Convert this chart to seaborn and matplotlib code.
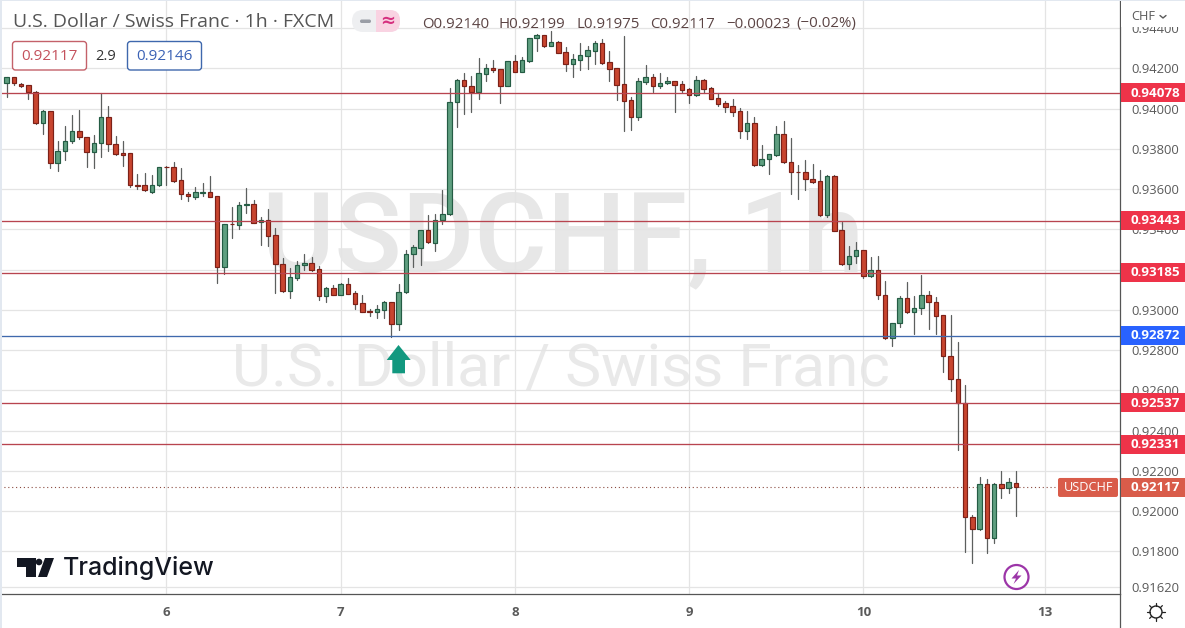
import numpy as np
import pandas as pd
import seaborn as sns
import matplotlib
matplotlib.use("Agg")
import matplotlib.pyplot as plt
from matplotlib.patches import Circle, FancyBboxPatch, Polygon, Rectangle

# 1. DATA (hourly candles, prices in 1e-5 CHF)
open_px = [94125, 94155, 94123, 94115, 94082, 93927, 93986, 93728, 93787, 93837,
           93887, 93857, 93782, 93827, 93956, 93822, 93777, 93777, 93620, 93618,
           93584, 93618, 93712, 93708, 93643, 93575, 93562, 93580, 93584, 93564,
           93214, 93428, 93423, 93519, 93524, 93434, 93446, 93370, 93229, 93095,
           93159, 93224, 93231, 93201, 93070, 93107, 93075, 93126, 93082, 93032,
           92992, 92990, 93000, 93037, 92931, 93087, 93275, 93309, 93395, 93333,
           93446, 93474, 94031, 94140, 94113, 94081, 94173, 94200, 94195, 94113,
           94235, 94183, 94236, 94349, 94364, 94312, 94329, 94279, 94220, 94243,
           94263, 94287, 94324, 94230, 94200, 94120, 94041, 93959, 94133, 94155,
           94113, 94125, 94135, 94120, 94095, 94069, 94140, 94100, 94051, 94027,
           94011, 93986, 93887, 93927, 93718, 93748, 93771, 93872, 93733, 93685,
           93683, 93648, 93638, 93472, 93663, 93395, 93226, 93266, 93295, 93166,
           93196, 93072, 92858, 92933, 93057, 92987, 93007, 93072, 93037, 92972,
           92769, 92657, 92535, 91968, 91912, 92132, 91867, 92132, 92115, 92140]
high_px = [94157, 94157, 94125, 94117, 94085, 93993, 93990, 93839, 93912, 93966,
           93993, 93858, 93867, 94076, 94012, 93863, 93837, 93780, 93675, 93678,
           93668, 93710, 93714, 93733, 93703, 93587, 93608, 93628, 93665, 93566,
           93427, 93509, 93535, 93604, 93544, 93459, 93499, 93405, 93257, 93206,
           93241, 93277, 93261, 93217, 93114, 93121, 93131, 93159, 93093, 93073,
           93005, 93023, 93043, 93040, 93128, 93297, 93322, 93398, 93471, 93474,
           93595, 94100, 94145, 94175, 94162, 94250, 94221, 94241, 94197, 94238,
           94266, 94255, 94352, 94370, 94367, 94385, 94337, 94304, 94271, 94324,
           94309, 94335, 94344, 94284, 94203, 94360, 94056, 94150, 94216, 94170,
           94178, 94155, 94137, 94135, 94103, 94160, 94148, 94108, 94079, 94037,
           94047, 94001, 93986, 93956, 93817, 93774, 93912, 93936, 93852, 93718,
           93743, 93723, 93693, 93668, 93668, 93434, 93317, 93335, 93297, 93262,
           93267, 93143, 92935, 93068, 93138, 93068, 93171, 93093, 93062, 92974,
           92974, 92840, 92624, 91978, 92169, 92157, 92140, 92198, 92162, 92199]
low_px = [94055, 94117, 94105, 94049, 93925, 93873, 93706, 93689, 93744, 93830,
          93847, 93711, 93706, 93761, 93790, 93768, 93716, 93608, 93599, 93590,
          93580, 93615, 93620, 93636, 93552, 93540, 93552, 93565, 93560, 93134,
          93179, 93358, 93403, 93482, 93430, 93323, 93317, 93085, 93090, 93060,
          93148, 93197, 93194, 93048, 93040, 93072, 93073, 93078, 93005, 92988,
          92970, 92957, 92957, 92866, 92899, 93083, 93211, 93222, 93333, 93293,
          93426, 93470, 93910, 93973, 93984, 94047, 94137, 94180, 94029, 94110,
          94180, 94180, 94232, 94287, 94307, 94310, 94275, 94188, 94158, 94191,
          94198, 94221, 94220, 94137, 94042, 93890, 93893, 93944, 94120, 94081,
          94102, 94122, 93983, 94084, 94029, 94061, 94076, 94046, 94014, 93984,
          93963, 93855, 93848, 93716, 93714, 93676, 93763, 93728, 93577, 93552,
          93595, 93631, 93467, 93462, 93390, 93222, 93201, 93234, 93159, 93163,
          93055, 92855, 92821, 92916, 92985, 92878, 92977, 92904, 92878, 92692,
          92598, 92303, 91797, 91743, 91908, 91792, 91842, 92066, 92091, 91975]
close_px = [94155, 94125, 94113, 94082, 93927, 93986, 93728, 93787, 93837, 93887,
            93857, 93782, 93827, 93956, 93822, 93772, 93769, 93618, 93616, 93594,
            93618, 93708, 93708, 93641, 93574, 93564, 93584, 93585, 93562, 93214,
            93425, 93425, 93519, 93524, 93433, 93446, 93368, 93229, 93095, 93161,
            93224, 93231, 93199, 93070, 93107, 93075, 93126, 93080, 93030, 92990,
            92990, 93002, 93037, 92931, 93087, 93277, 93310, 93395, 93335, 93446,
            93474, 94031, 94140, 94113, 94081, 94175, 94200, 94193, 94113, 94235,
            94183, 94240, 94349, 94364, 94312, 94329, 94277, 94220, 94245, 94264,
            94289, 94324, 94225, 94198, 94118, 94039, 93959, 94135, 94155, 94113,
            94125, 94135, 94118, 94093, 94069, 94140, 94098, 94049, 94024, 94007,
            93984, 93887, 93927, 93718, 93748, 93772, 93872, 93733, 93683, 93683,
            93648, 93636, 93472, 93663, 93393, 93226, 93266, 93295, 93166, 93196,
            93072, 92858, 92933, 93057, 92987, 93007, 93072, 93037, 92970, 92769,
            92657, 92535, 91968, 91912, 92132, 91867, 92132, 92115, 92142, 92117]

y_ticks = [0.944, 0.942, 0.940, 0.938, 0.936, 0.934, 0.932, 0.930, 0.928, 0.926,
           0.924, 0.922, 0.920, 0.918, 0.9162]
day_ticks = [22, 46, 70, 94, 118, 143]
day_labels = ['6', '7', '8', '9', '10', '13']
red_levels = [0.94078, 0.93443, 0.93185, 0.92537, 0.92331]
blue_level = 0.92872
last_price = 0.92117
ohlc_parts = ['O0.92140', 'H0.92199', 'L0.91975', 'C0.92117', '−0.00023', '(−0.02%)']

RED = '#c8452f'
RED_EDGE = '#7c2118'
GREEN = '#5f9f80'
GREEN_EDGE = '#245c44'
WICK = '#5c5f5e'
TEXT = '#5a5a5a'
TAG_RED = '#ee3349'
TAG_BLUE = '#2962ff'
TAG_LAST = '#d95c4a'

# 2. TABLES FOR SEABORN
df = pd.DataFrame({'candle': np.arange(len(open_px)),
                   'open': np.array(open_px) / 1e5, 'high': np.array(high_px) / 1e5,
                   'low': np.array(low_px) / 1e5, 'close': np.array(close_px) / 1e5})
df['body_low'] = df[['open', 'close']].min(axis=1)
df['body_size'] = (df['open'] - df['close']).abs()
wicks = pd.melt(df, id_vars=['candle'], value_vars=['high', 'low'], value_name='price')

# 3. FIGURE
sns.set_style('white')
plt.rcParams['font.family'] = ['Open Sans', 'DejaVu Sans']
W, H = 1185, 628
fig = plt.figure(figsize=(W / 100, H / 100), dpi=100)
ax = fig.add_axes([0, (H - 594) / H, 1120 / W, 594 / H])
step = 7.26
xlim = (-6.7 / step, (1120 - 6.7) / step)
ylim = (0.915876, 0.945394)


def py(price):
    # price to pixel row, for the tags drawn on the overlay
    return (ylim[1] - price) / (ylim[1] - ylim[0]) * 594


# watermarks under the grid
ax.text((563 - 6.7) / step, 0.93345, 'USDCHF, 1h', fontsize=80, family='Roboto', fontweight='medium',
        color='#e7e7e7', ha='center', va='center', zorder=0.4)
ax.text((561 - 6.7) / step, 0.92705, 'U.S. Dollar / Swiss Franc', fontsize=43.5, family='Roboto', color='#e9e9e9',
        ha='center', va='center', zorder=0.4)

# 4. CANDLES
sns.lineplot(data=wicks, x='candle', y='price', units='candle', estimator=None, sort=False,
             color=WICK, linewidth=0.9, legend=False, ax=ax, zorder=2)
for up, fill, edge in [(True, GREEN, GREEN_EDGE), (False, RED, RED_EDGE)]:
    part = df[(df['close'] >= df['open']) == up]
    sns.barplot(data=part, x='candle', y='body_size', bottom=part['body_low'].values, native_scale=True,
                errorbar=None, width=0.62, color=fill, saturation=1, edgecolor=edge, linewidth=0.85,
                ax=ax, zorder=3)

for level in red_levels:
    ax.axhline(level, color='#b8444f', lw=0.95, zorder=4)
ax.axhline(blue_level, color='#3f69ad', lw=0.95, zorder=4)
ax.axhline(last_price, color='#8a4a40', lw=0.8, ls=(0, (1, 2.5)), zorder=1.5)

# 5. AXES
ax.set_xlim(*xlim)
ax.set_ylim(*ylim)
ax.yaxis.tick_right()
ax.set_yticks(y_ticks)
ax.set_yticklabels([f'{t:.5f}' for t in y_ticks], color=TEXT, fontsize=9.4)
ax.set_xticks(day_ticks)
ax.set_xticklabels(day_labels, color=TEXT, fontsize=9.5, fontweight='bold')
ax.set_xlabel('')
ax.set_ylabel('')
ax.tick_params(axis='y', length=0, pad=8.5, labelright=True, labelleft=False)
ax.tick_params(axis='x', length=0, pad=9)
ax.set_axisbelow(True)
ax.grid(True, color='#e4e4e4', lw=0.9)
sns.despine(ax=ax, top=True, left=True, right=False, bottom=False)
ax.spines['right'].set_color('#555555')
ax.spines['bottom'].set_color('#555555')
ax.spines['right'].set_linewidth(0.9)
ax.spines['bottom'].set_linewidth(0.9)

# 6. OVERLAY (header, price tags, logo, icons), pixel coordinates of the picture
ov = fig.add_axes([0, 0, 1, 1], zorder=5)
ov.set_xlim(0, W)
ov.set_ylim(H, 0)
ov.axis('off')

ov.add_patch(Rectangle((1121, 0), 64, 27, color='white', lw=0))
ov.plot([1120, 1120], [594, 628], color='#555555', lw=0.9)
ov.add_patch(Rectangle((0, 0), 2, H, color='#e2e8f0', lw=0))
ov.add_patch(Rectangle((0, 0), W, 1, color='#e2e8f0', lw=0))
ov.text(1131, 17, 'CHF', fontsize=9.2, color=TEXT, va='center')
ov.plot([1160, 1163, 1166], [15.5, 18, 15.5], color=TEXT, lw=1)


def price_tag(price, label, color):
    y = py(price)
    ov.add_patch(Rectangle((1121, y - 9.5), 64, 19, color=color, lw=0))
    ov.text(1155, y + 0.3, label, color='white', fontsize=9.6, fontweight='bold', ha='center', va='center')


for level in red_levels:
    price_tag(level, f'{level:.5f}', TAG_RED)
price_tag(blue_level, f'{blue_level:.5f}', TAG_BLUE)
price_tag(last_price, f'{last_price:.5f}', TAG_LAST)
ov.add_patch(FancyBboxPatch((1058, py(last_price) - 9.5), 60, 19, boxstyle='round,pad=0,rounding_size=2',
                            color=TAG_LAST, lw=0))
ov.text(1088.5, py(last_price) + 0.3, 'USDCHF', color='white', fontsize=9.2, fontweight='medium',
        ha='center', va='center')

# header text
ov.text(13, 22, 'U.S. Dollar / Swiss Franc · 1h · FXCM', fontsize=14, color='#555555', va='center')
ov.add_patch(FancyBboxPatch((352, 10), 48, 22, boxstyle='round,pad=0,rounding_size=11', color='#eeeff1', lw=0))
ov.add_patch(FancyBboxPatch((376, 10), 24, 22, boxstyle='round,pad=0,rounding_size=10', color='#f9d3e2', lw=0))
ov.add_patch(Rectangle((376, 10), 8, 22, color='#f9d3e2', lw=0))
ov.add_patch(FancyBboxPatch((360, 19.5), 11, 3.5, boxstyle='round,pad=0,rounding_size=1.7', color='#9a9ea6', lw=0))
ov.text(388, 21, '≈', fontsize=13, color='#d6307f', ha='center', va='center', family='DejaVu Sans', fontweight='bold')
for part_x, part_text in zip([422, 499, 576, 650, 726, 796], ohlc_parts):
    ov.text(part_x, 24, part_text, fontsize=10.8, color='#5b4444', va='center')

ov.add_patch(FancyBboxPatch((12.5, 41.5), 74, 28.5, boxstyle='round,pad=0,rounding_size=3', fc='white',
                            ec='#c4616a', lw=1))
ov.text(49.5, 56, '0.92117', fontsize=11, color='#c4515c', ha='center', va='center')
ov.text(106, 56, '2.9', fontsize=10.5, color='#333333', ha='center', va='center')
ov.add_patch(FancyBboxPatch((127.5, 41.5), 74, 28.5, boxstyle='round,pad=0,rounding_size=3', fc='white',
                            ec='#3f68ad', lw=1))
ov.text(164.5, 56, '0.92146', fontsize=11, color='#3b62b5', ha='center', va='center')

# green arrow
ov.add_patch(Polygon([(398.5, 345), (410.7, 360), (405, 360), (405, 373.3), (392.3, 373.3), (392.3, 360), (386.7, 360)],
                     color='#12987f', lw=0))

# TradingView logo
LOGO = '#131722'
ov.add_patch(Polygon([(17, 558), (36, 558), (36, 577), (26, 577), (26, 567), (17, 567)], color=LOGO, lw=0))
ov.add_patch(Circle((39, 562), 3.3, color=LOGO, lw=0))
ov.add_patch(Polygon([(45, 558), (54, 558), (47, 577), (38, 577)], color=LOGO, lw=0))
ov.text(62.5, 568, 'TradingView', fontsize=18, family='Inter', fontweight='medium', color=LOGO, va='center')

# lightning icon
ov.add_patch(Circle((1016.5, 577), 12, fc='white', ec='#9c35a8', lw=1.6))
ov.add_patch(Polygon([(1019, 570), (1011.5, 578.5), (1016, 578.5), (1013.5, 584), (1021.5, 575.5), (1017, 575.5)],
                     color='#9c35a8', lw=0))

# sun icon
ov.add_patch(Circle((1156, 612), 6, fc='white', ec='#222222', lw=1))
for a in np.arange(0, 360, 45):
    c, s = np.cos(np.radians(a)), np.sin(np.radians(a))
    ov.plot([1156 + 6 * c, 1156 + 9 * c], [612 + 6 * s, 612 + 9 * s], color='#222222', lw=0.9)

fig.savefig('out.png', dpi=100)
